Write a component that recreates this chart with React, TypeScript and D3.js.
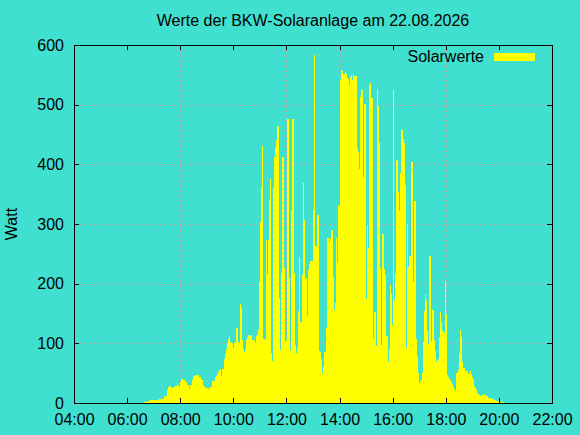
import * as d3 from "d3";
import React, { useEffect, useRef } from "react";

const title = "Werte der BKW-Solaranlage am 22.08.2026";
const yLabel = "Watt";
const seriesName = "Solarwerte";
const xTickLabels = ["04:00", "06:00", "08:00", "10:00", "12:00", "14:00", "16:00", "18:00", "20:00", "22:00"];
const yTickValues = [0, 100, 200, 300, 400, 500, 600];

// Messwerte ab 06:36, etwa alle 2 Minuten 15 Sekunden
const startTime = "06:36";
const stepMinutes = 2.26;
const watts = [
    0, 1, 2, 2, 2, 3, 3, 5, 5, 5,
    5, 5, 5, 5, 5, 5, 7, 7, 7, 7,
    7, 11, 11, 11, 21, 26, 28, 28, 25, 25,
    26, 26, 29, 29, 30, 30, 27, 36, 40, 40,
    39, 39, 36, 36, 30, 30, 23, 30, 30, 39,
    45, 45, 47, 47, 47, 47, 44, 44, 39, 39,
    28, 28, 25, 25, 25, 25, 21, 27, 27, 37,
    37, 37, 43, 45, 48, 52, 55, 57, 46, 57,
    57, 73, 82, 90, 100, 108, 113, 103, 100, 100,
    92, 100, 103, 126, 126, 102, 100, 166, 160, 106,
    90, 86, 88, 106, 110, 114, 114, 112, 114, 106,
    105, 105, 100, 112, 116, 123, 202, 304, 361, 430,
    108, 108, 106, 274, 215, 274, 340, 376, 84, 70,
    360, 413, 427, 440, 464, 464, 176, 89, 218, 413,
    413, 226, 103, 106, 476, 476, 210, 89, 321, 476,
    476, 218, 97, 83, 93, 155, 244, 135, 136, 215,
    369, 307, 209, 209, 145, 223, 233, 238, 238, 238,
    323, 583, 263, 263, 315, 315, 87, 86, 73, 51,
    60, 86, 86, 126, 277, 277, 269, 277, 290, 290,
    212, 156, 167, 276, 234, 332, 330, 541, 558, 556,
    552, 551, 554, 551, 545, 543, 533, 547, 550, 542,
    550, 548, 548, 548, 427, 421, 392, 513, 525, 525,
    379, 501, 501, 174, 298, 260, 533, 537, 511, 511,
    107, 152, 152, 96, 527, 498, 435, 226, 97, 284,
    284, 224, 215, 112, 112, 68, 90, 198, 183, 131,
    525, 173, 218, 407, 407, 354, 321, 385, 458, 458,
    442, 436, 365, 93, 300, 228, 246, 246, 404, 404,
    202, 339, 339, 108, 78, 51, 33, 37, 39, 51,
    103, 155, 181, 172, 121, 99, 246, 246, 104, 156,
    156, 106, 87, 69, 72, 73, 111, 153, 136, 120,
    120, 117, 204, 150, 47, 44, 40, 39, 36, 32,
    27, 23, 20, 50, 51, 56, 83, 123, 111, 68,
    58, 58, 54, 53, 53, 51, 49, 54, 49, 43,
    39, 28, 25, 21, 17, 15, 13, 12, 13, 13,
    13, 15, 13, 12, 11, 9, 9, 8, 8, 7,
    6, 5, 5, 4, 4, 3, 2, 2, 2, 1, 1, 0,
];

const toMinutes = (s: string) => {
    const [h, m] = s.split(":").map(Number);
    return h * 60 + m;
};

const W = 580,
    H = 435;
const margin = { top: 45, right: 28, bottom: 32, left: 74 };
const bg = "#40e0d0";
const gridColor = "#c0a0a0";
const font = "'Liberation Sans', Arial, sans-serif";

const SolarChart: React.FC = () => {
    const svgRef = useRef<SVGSVGElement>(null);

    useEffect(() => {
        const svgEl = svgRef.current;
        if (!svgEl) return;
        svgEl.innerHTML = "";

        const width = W - margin.left - margin.right;
        const height = H - margin.top - margin.bottom;

        const xTicks = xTickLabels.map(toMinutes);
        const x = d3
            .scaleLinear()
            .domain([xTicks[0], xTicks[xTicks.length - 1]])
            .range([0, width]);
        const y = d3
            .scaleLinear()
            .domain([0, 600])
            .range([height, 0]);

        const t0 = toMinutes(startTime);
        const points = watts.map((v, i) => ({ t: t0 + i * stepMinutes, v }));
        points.push({ t: t0 + watts.length * stepMinutes, v: 0 });

        const svg = d3.select(svgEl);
        svg.append("rect")
            .attr("width", W)
            .attr("height", H)
            .attr("fill", bg);

        const g = svg
            .append("g")
            .attr("transform", `translate(${margin.left},${margin.top})`);

        // grid
        const grid = g
            .append("g")
            .attr("stroke", gridColor)
            .attr("stroke-width", 1)
            .attr("stroke-dasharray", "2,3")
            .attr("shape-rendering", "crispEdges");
        grid.selectAll(".gx")
            .data(xTicks.slice(1, -1))
            .enter()
            .append("line")
            .attr("x1", d => Math.round(x(d)) + 0.5)
            .attr("x2", d => Math.round(x(d)) + 0.5)
            .attr("y1", 0)
            .attr("y2", height);
        grid.selectAll(".gy")
            .data(yTickValues.slice(1, -1))
            .enter()
            .append("line")
            .attr("x1", 0)
            .attr("x2", width)
            .attr("y1", d => Math.round(y(d)) + 0.5)
            .attr("y2", d => Math.round(y(d)) + 0.5);

        const area = d3
            .area<{ t: number; v: number }>()
            .x(d => x(d.t))
            .y0(y(0))
            .y1(d => y(d.v))
            .curve(d3.curveStepAfter);

        g.append("path")
            .datum(points)
            .attr("fill", "#ffff00")
            .attr("stroke", "none")
            .attr("shape-rendering", "crispEdges")
            .attr("d", area);

        const fmt = (d: any) => {
            const m = +d;
            return `${String(Math.floor(m / 60)).padStart(2, "0")}:${String(m % 60).padStart(2, "0")}`;
        };

        const styleAxis = (sel: any) => {
            sel.attr("font-family", font).attr("font-size", 16);
            sel.select(".domain").remove();
            sel.selectAll(".tick line")
                .attr("stroke", "#000")
                .attr("shape-rendering", "crispEdges");
            sel.selectAll(".tick text").attr("fill", "#000");
        };

        g.append("g")
            .attr("transform", `translate(0,${height})`)
            .call(
                d3.axisBottom(x)
                    .tickValues(xTicks)
                    .tickFormat(fmt)
                    .tickSize(-5)
                    .tickPadding(11),
            )
            .call(styleAxis);
        g.append("g")
            .call(d3.axisTop(x).tickValues(xTicks).tickFormat(() => "").tickSize(-5))
            .call(styleAxis);
        g.append("g")
            .call(
                d3.axisLeft(y)
                    .tickValues(yTickValues)
                    .tickSize(-5)
                    .tickPadding(10),
            )
            .call(styleAxis);
        g.append("g")
            .attr("transform", `translate(${width},0)`)
            .call(d3.axisRight(y).tickValues(yTickValues).tickFormat(() => "").tickSize(-5))
            .call(styleAxis);

        g.append("rect")
            .attr("x", 0.5)
            .attr("y", 0.5)
            .attr("width", width)
            .attr("height", height)
            .attr("fill", "none")
            .attr("stroke", "#000")
            .attr("shape-rendering", "crispEdges");

        // legend
        g.append("text")
            .attr("x", width - 68)
            .attr("y", 17)
            .attr("text-anchor", "end")
            .attr("font-family", font)
            .attr("font-size", 16)
            .text(seriesName);
        g.append("rect")
            .attr("x", width - 58)
            .attr("y", 8)
            .attr("width", 41)
            .attr("height", 8)
            .attr("fill", "#ffff00");

        svg.append("text")
            .attr("x", margin.left + width / 2)
            .attr("y", 26)
            .attr("text-anchor", "middle")
            .attr("font-family", font)
            .attr("font-size", 16)
            .text(title);

        svg.append("text")
            .attr("transform", `translate(17,${margin.top + height / 2}) rotate(-90)`)
            .attr("text-anchor", "middle")
            .attr("font-family", font)
            .attr("font-size", 16)
            .text(yLabel);
    }, []);

    return (
        <svg
            ref={svgRef}
            width={W}
            height={H}
            style={{ position: "absolute", left: 0, top: 0, display: "block" }}
        ></svg>
    );
};

export default function App() {
    return <SolarChart />;
}
